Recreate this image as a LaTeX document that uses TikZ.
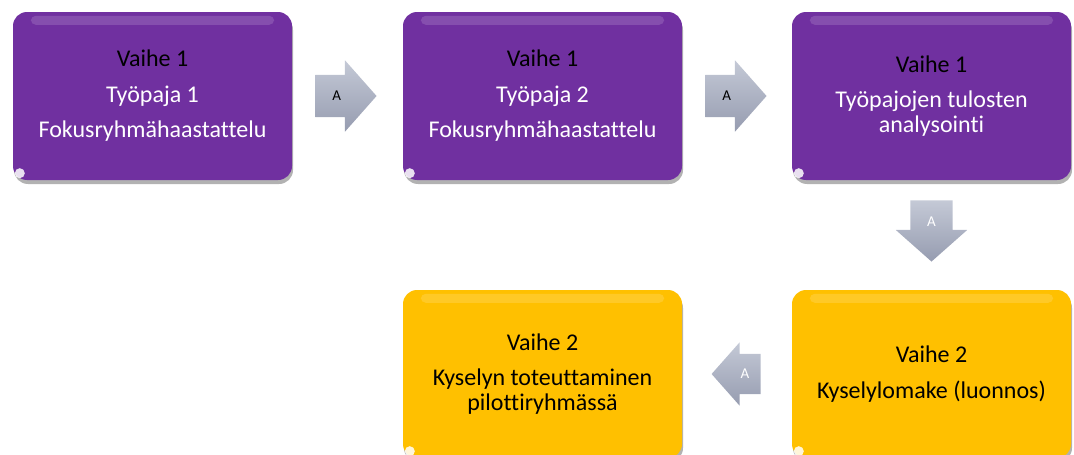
\documentclass[tikz,border=0pt]{standalone}
\usepackage{fontspec}
\setmainfont[Ligatures=NoCommon]{Carlito}
\usetikzlibrary{shapes.arrows,shadows,calc}
\definecolor{violetbox}{HTML}{7030A0}
\definecolor{amberbox}{HTML}{FFC000}
\definecolor{arrowtop}{HTML}{C4C9D6}
\definecolor{arrowbot}{HTML}{969CB0}
\tikzset{
  stage/.style={rounded corners=14pt, minimum width=279pt, minimum height=168pt,
    inner sep=0pt, align=center, font=\fontsize{24}{24.5}\selectfont,
    drop shadow={shadow xshift=1pt, shadow yshift=-4pt, opacity=.3, fill=black}},
  phase1/.style={stage, fill=violetbox, text=white},
  phase2/.style={stage, fill=amberbox, text=black},
  flow/.style={single arrow, single arrow head extend=14.5pt, single arrow tip angle=97,
    minimum height=61pt, inner sep=16.5pt, text width=9pt, text height=9pt, text depth=0pt,
    align=center, top color=arrowtop, bottom color=arrowbot, draw=none,
    font=\fontsize{15}{16}\selectfont}
}
\begin{document}
\begin{tikzpicture}[x=1pt,y=-1pt]
\useasboundingbox (0,0) rectangle (1074,455);
% phase 1 boxes
\node[phase1] (b1) at (152.5,96) {\textcolor{black}{Vaihe 1}\\[11pt] Työpaja 1\\[11pt] Fokusryhmähaastattelu};
\node[phase1] (b2) at (542.5,96) {\textcolor{black}{Vaihe 1}\\[11pt] Työpaja 2\\[11pt] Fokusryhmähaastattelu};
\node[phase1] (b3) at (931.5,96) {\textcolor{black}{Vaihe 1}\\[11pt] Työpajojen tulosten\\ analysointi};
% phase 2 boxes
\node[phase2] (b4) at (542.5,374) {Vaihe 2\\[11pt] Kyselyn toteuttaminen\\ pilottiryhmässä};
\node[phase2] (b5) at (931.5,374) {Vaihe 2\\[11pt] Kyselylomake (luonnos)};
% gloss
\foreach \b in {b1,b2,b3,b4,b5} {
  \fill[white,opacity=.15,rounded corners=5pt] ($(\b.north west)+(18,4)$) rectangle ($(\b.north east)+(-18,13)$);
  \fill[white,opacity=.85] ($(\b.south west)+(7,-7)$) circle (5pt);
}
% block arrows
\node[flow,anchor=tail] (a12) at ($(b1.east)+(23,0)$) {A};
\node[flow,anchor=tail] (a23) at ($(b2.east)+(23,0)$) {A};
\node[flow,shape border rotate=270,text=white,anchor=tail] (a35) at ($(b3.south)+(0,20)$) {A};
\node[flow,shape border rotate=180,text=white,anchor=tail,minimum height=49pt,
  single arrow head extend=11.5pt,inner xsep=10pt,inner ysep=15.5pt] (a54) at ($(b5.west)+(-31,0)$) {A};
\end{tikzpicture}
\end{document}
